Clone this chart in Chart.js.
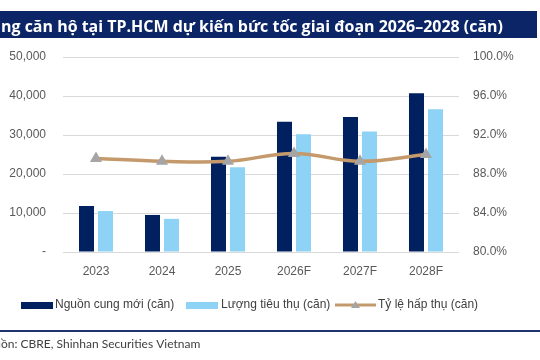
<!DOCTYPE html>
<html><head><meta charset="utf-8">
<script src="https://cdn.jsdelivr.net/npm/chart.js@4"></script>
<style>html,body{margin:0;padding:0;background:#fff;}#wrap{width:540px;height:360px;position:relative;}</style>
</head><body><div id="wrap"><canvas id="c" width="540" height="360"></canvas></div>
<script>
const categories = ["2023","2024","2025","2026F","2027F","2028F"];
const newSupply = [11800, 9500, 24400, 33400, 34600, 40700];
const sold = [10500, 8500, 21700, 30200, 30900, 36600];
const absorption = [89.6, 89.3, 89.3, 90.1, 89.3, 90.0];
const seriesNames = ["Nguồn cung mới (căn)", "Lượng tiêu thụ (căn)", "Tỷ lệ hấp thụ (căn)"];
const titleText = "ng căn hộ tại TP.HCM dự kiến bức tốc giai đoạn 2026–2028 (căn)";
const sourceText = "Nguồn: CBRE, Shinhan Securities Vietnam";

const NAVY = "#002060", LIGHT = "#8ED3F5", TAN = "#C49A6C", GRAY = "#A5A5A5";
const TICKFONT = {family: "'Liberation Sans', Arial, sans-serif", size: 12};

const deco = {
  id: "deco",
  beforeDraw(chart) {
    const ctx = chart.ctx;
    ctx.save();
    ctx.fillStyle = "#fff"; ctx.fillRect(0,0,540,360);
    ctx.fillStyle = "#0B2566"; ctx.fillRect(0, 11, 537, 27);
    ctx.fillStyle = "#fff";
    ctx.font = "bold 16px 'Open Sans', 'Noto Sans', sans-serif";
    const w = ctx.measureText(titleText).width;
    ctx.textBaseline = "alphabetic";
    ctx.save();
    ctx.translate(1, 32);
    ctx.scale(502 / w, 1);
    ctx.fillText(titleText, 0, 0);
    ctx.restore();
    // bottom rule
    ctx.fillStyle = "#1F3470"; ctx.fillRect(0, 330, 540, 2);
    // source
    ctx.fillStyle = "#404040";
    ctx.font = "12px Lato, 'Noto Sans', sans-serif";
    ctx.textBaseline = "middle";
    const off = ctx.measureText("Ngu").width;
    ctx.fillText(sourceText, 1 - off, 344);
    ctx.restore();
  },
  afterDraw(chart) {
    const ctx = chart.ctx;
    ctx.save();
    ctx.font = "12px 'Liberation Sans', Arial, sans-serif";
    ctx.textBaseline = "middle";
    ctx.fillStyle = "#404040";
    const y = 305;
    // item 1
    ctx.fillStyle = NAVY; ctx.fillRect(21, y - 3, 32, 7);
    ctx.fillStyle = "#404040"; ctx.fillText(seriesNames[0], 55, y);
    ctx.fillStyle = LIGHT; ctx.fillRect(186, y - 3, 32, 7);
    ctx.fillStyle = "#404040"; ctx.fillText(seriesNames[1], 221, y);
    ctx.strokeStyle = TAN; ctx.lineWidth = 3;
    ctx.beginPath(); ctx.moveTo(335, y); ctx.lineTo(376, y); ctx.stroke();
    ctx.fillStyle = GRAY;
    ctx.beginPath(); ctx.moveTo(355.5, y - 4); ctx.lineTo(360, y + 3); ctx.lineTo(351, y + 3); ctx.closePath(); ctx.fill();
    ctx.fillStyle = "#404040"; ctx.fillText(seriesNames[2], 378, y);
    ctx.restore();
  }
};

new Chart(document.getElementById("c"), {
  data: {
    labels: categories,
    datasets: [
      {type: "line", label: seriesNames[2], data: absorption, yAxisID: "y1", borderColor: TAN, borderWidth: 3.5,
       tension: 0.4, pointStyle: "triangle", pointRadius: 7, pointBackgroundColor: GRAY, pointBorderColor: GRAY, pointBorderWidth: 0, order: 0},
      {type: "bar", label: seriesNames[0], data: newSupply, yAxisID: "y", backgroundColor: NAVY,
       categoryPercentage: 0.576, barPercentage: 0.79, order: 1},
      {type: "bar", label: seriesNames[1], data: sold, yAxisID: "y", backgroundColor: LIGHT,
       categoryPercentage: 0.576, barPercentage: 0.79, order: 1}
    ]
  },
  options: {
    responsive: false, animation: false, devicePixelRatio: 1,
    layout: {padding: {top: 57, left: 0, right: 0, bottom: 0}},
    plugins: {legend: {display: false}, tooltip: {enabled: false}},
    scales: {
      x: {
        grid: {display: false, drawTicks: false}, border: {display: false},
        ticks: {color: "#595959", font: TICKFONT, padding: 12, maxRotation: 0},
        afterFit(s) { s.height = 108; }
      },
      y: {
        position: "left", min: 0, max: 50000,
        grid: {color: "#D9D9D9", lineWidth: 1, drawTicks: false}, border: {display: false},
        ticks: {stepSize: 10000, color: "#595959", font: TICKFONT, padding: 17,
          callback: v => v === 0 ? "-" : v.toLocaleString("en-US")},
        afterFit(s) { s.width = 63; }
      },
      y1: {
        position: "right", min: 80, max: 100,
        grid: {display: false, drawTicks: false}, border: {display: false},
        ticks: {stepSize: 4, color: "#595959", font: TICKFONT, padding: 14,
          callback: v => v.toFixed(1) + "%"},
        afterFit(s) { s.width = 81; }
      }
    }
  },
  plugins: [deco]
});
</script></body></html>
